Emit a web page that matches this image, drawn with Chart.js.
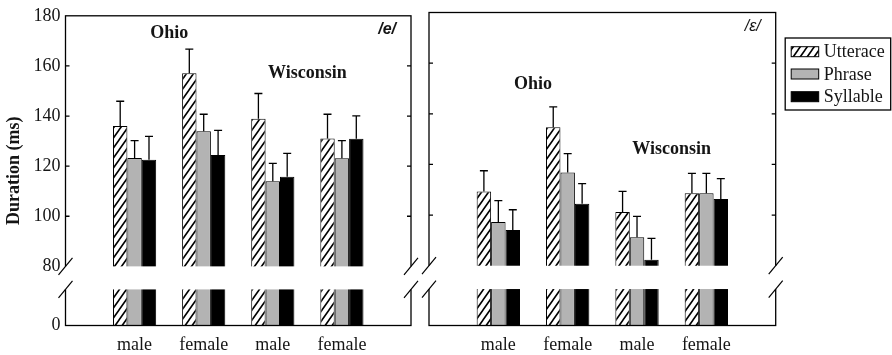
<!DOCTYPE html>
<html><head><meta charset="utf-8">
<script src="https://cdn.jsdelivr.net/npm/chart.js@4.4.0/dist/chart.umd.min.js"></script>
<style>
html,body{margin:0;padding:0;background:#fff;}
#wrap{position:relative;width:892px;height:355px;overflow:hidden;background:#fff;}
#c1{position:absolute;left:0;top:0;}
#c2{position:absolute;left:420px;top:0;}
</style></head><body>
<div id="wrap"><canvas id="c1" width="420" height="355"></canvas><canvas id="c2" width="472" height="355"></canvas></div>
<script>
// ---------- data ----------
const categories = ['male', 'female', 'male', 'female'];
const seriesNames = ['Utterace', 'Phrase', 'Syllable'];
const yTickValues = [0, 80, 100, 120, 140, 160, 180];

// /e/ panel (means, ms)
const eUtterance = [136.0, 157.1, 138.9, 131.0];
const ePhrase    = [123.2, 133.9, 114.0, 123.1];
const eSyllable  = [122.6, 124.4, 115.8, 130.9];
// /e/ panel (error, ms)
const eUtteranceErr = [9.9, 9.6, 10.1, 9.7];
const ePhraseErr    = [7.0, 6.8, 7.1, 7.1];
const eSyllableErr  = [9.3, 9.9, 9.3, 9.2];

// /ɛ/ panel (means, ms)
const epsUtterance = [109.3, 134.7, 101.2, 108.6];
const epsPhrase    = [97.3, 116.8, 91.2, 108.6];
const epsSyllable  = [94.1, 104.5, 82.4, 106.4];
// /ɛ/ panel (error, ms)
const epsUtteranceErr = [8.2, 8.0, 8.2, 7.9];
const epsPhraseErr    = [8.4, 7.5, 8.3, 7.9];
const epsSyllableErr  = [8.0, 7.9, 8.4, 8.0];

// group labels inside the panels
const eNotes = ['Ohio', 'Wisconsin'];
const eNoteX = [1.5, 3.5];
const eNoteY = [172.8, 157.1];
const epsNotes = ['Ohio', 'Wisconsin'];
const epsNoteX = [1.5, 3.5];
const epsNoteY = [151.8, 126.1];

// ---------- styling / axis break ----------
const SERIF = "'Liberation Serif','Times New Roman',serif";
const INK = '#151515';
const Y_MAX = 180;
const Y_MIN = 56.4;      // value drawn where "0" sits (below the break)
const BREAK_HI = 80;     // top of the break gap
const BREAK_LO = 70.8;   // bottom of the break gap

function makeHatch() {
  const w = 7, h = 10;
  const c = document.createElement('canvas');
  c.width = w; c.height = h;
  const g = c.getContext('2d');
  g.fillStyle = '#fff'; g.fillRect(0, 0, w, h);
  g.strokeStyle = '#000'; g.lineWidth = 1.6;
  g.beginPath();
  [-w, 0, w].forEach(dx => {
    g.moveTo(dx - 1, h + 10 / 7); g.lineTo(dx + w + 1, -10 / 7);
  });
  g.stroke();
  return g.createPattern(c, 'repeat');
}
const HATCH = makeHatch();
const FILLS = [HATCH, '#b3b3b3', '#000000'];

const pad = a => [null, ...a, null];

const panelPlugin = {
  id: 'panelPlugin',
  afterDatasetsDraw(chart) {
    const o = chart.options.plugins.panelPlugin;
    const ctx = chart.ctx;
    const ca = chart.chartArea;
    const ys = chart.scales.y, xs = chart.scales.x;
    ctx.save();
    // frame
    ctx.strokeStyle = '#000'; ctx.lineWidth = 1.3;
    ctx.strokeRect(ca.left, ca.top, ca.right - ca.left, ca.bottom - ca.top);
    // inner ticks
    [100, 120, 140, 160].forEach(v => {
      const y = ys.getPixelForValue(v);
      ctx.beginPath();
      ctx.moveTo(ca.left, y); ctx.lineTo(ca.left + 4, y);
      ctx.moveTo(ca.right, y); ctx.lineTo(ca.right - 4, y);
      ctx.stroke();
    });
    // break gap
    const yHi = ys.getPixelForValue(BREAK_HI), yLo = ys.getPixelForValue(BREAK_LO);
    ctx.fillStyle = '#fff';
    ctx.fillRect(ca.left - 3, yHi, ca.right - ca.left + 6, yLo - yHi);
    ctx.strokeStyle = '#000'; ctx.lineWidth = 1.2;
    [ca.left, ca.right].forEach(x => {
      [yHi, yLo].forEach(yc => {
        ctx.beginPath();
        ctx.moveTo(x - 7, yc + 8.5); ctx.lineTo(x + 7, yc - 8.5);
        ctx.stroke();
      });
    });
    // error bars
    ctx.lineWidth = 1.3; ctx.strokeStyle = '#000';
    chart.data.datasets.forEach((ds, i) => {
      const meta = chart.getDatasetMeta(i);
      const errs = o.errors[i];
      meta.data.forEach((bar, j) => {
        const v = ds.data[j];
        if (v === null || v === undefined) return;
        const e = errs[j - 1];
        const yT = ys.getPixelForValue(v + e);
        ctx.beginPath();
        ctx.moveTo(bar.x, bar.y); ctx.lineTo(bar.x, yT);
        ctx.moveTo(bar.x - 4, yT); ctx.lineTo(bar.x + 4, yT);
        ctx.stroke();
      });
    });
    // group labels
    ctx.fillStyle = INK;
    ctx.font = 'bold 18px ' + SERIF;
    ctx.textAlign = 'center'; ctx.textBaseline = 'middle';
    o.notes.forEach((t, k) => {
      ctx.fillText(t, xs.getPixelForValue(o.noteX[k]), ys.getPixelForValue(o.noteY[k]));
    });
    // vowel label
    ctx.font = o.vowelFont;
    ctx.textAlign = 'right';
    ctx.fillText(o.vowel, ca.right - 15, ca.top + 14);
    ctx.restore();
  },
  afterDraw(chart) {
    const o = chart.options.plugins.panelPlugin;
    if (!o.legend) return;
    const ctx = chart.ctx, ca = chart.chartArea;
    const bx = ca.right + 9.5, by = 38, bw = 105.5, bh = 72;
    ctx.save();
    ctx.fillStyle = '#fff';
    ctx.fillRect(bx, by, bw, bh);
    ctx.strokeStyle = '#000'; ctx.lineWidth = 1.3;
    ctx.strokeRect(bx, by, bw, bh);
    const rowY = [51.7, 74, 96.7];
    seriesNames.forEach((name, i) => {
      const y = rowY[i];
      ctx.fillStyle = FILLS[i];
      ctx.fillRect(bx + 6, y - 5, 27.5, 10);
      ctx.lineWidth = 1; ctx.strokeStyle = '#000';
      ctx.strokeRect(bx + 6, y - 5, 27.5, 10);
      ctx.fillStyle = INK;
      ctx.font = '18px ' + SERIF;
      ctx.textAlign = 'left'; ctx.textBaseline = 'middle';
      ctx.fillText(name, bx + 38.5, y + 1);
    });
    ctx.restore();
  }
};

function makePanel(id, series, errors, cfg) {
  return new Chart(document.getElementById(id), {
    type: 'bar',
    data: {
      labels: ['', ...categories, ''],
      datasets: series.map((s, i) => ({
        label: seriesNames[i],
        data: pad(s),
        backgroundColor: FILLS[i],
        borderColor: '#000',
        borderWidth: 1,
        borderSkipped: false,
        categoryPercentage: 0.625,
        barPercentage: 1
      }))
    },
    options: {
      responsive: false,
      animation: false,
      events: [],
      layout: { padding: { left: 0, right: cfg.padRight, top: 12.5, bottom: 0 } },
      plugins: {
        legend: { display: false },
        tooltip: { enabled: false },
        panelPlugin: {
          errors: errors, notes: cfg.notes, noteX: cfg.noteX, noteY: cfg.noteY,
          vowel: cfg.vowel, vowelFont: cfg.vowelFont, legend: cfg.legend
        }
      },
      scales: {
        x: {
          type: 'category',
          offset: false,
          grid: { display: false, drawTicks: false },
          border: { display: false },
          ticks: { autoSkip: false, maxRotation: 0, minRotation: 0, padding: 9,
                   color: INK, font: { family: SERIF, size: 18 } },
          afterFit: s => { s.height = 29.5; }
        },
        y: {
          type: 'linear',
          min: Y_MIN, max: Y_MAX,
          afterBuildTicks: s => { s.ticks = yTickValues.map(v => ({ value: v === 0 ? Y_MIN : v })); },
          afterFit: s => { s.width = cfg.yWidth; },
          grid: { display: false, drawTicks: false },
          border: { display: false },
          ticks: { display: cfg.showY, padding: 5, color: INK, font: { family: SERIF, size: 18 },
                   callback: v => (v === Y_MIN ? '0' : String(v)) },
          title: { display: cfg.showY, text: 'Duration (ms)', color: INK,
                   font: { family: SERIF, size: 18, weight: 'bold' }, padding: { top: 4, bottom: 4 } }
        }
      }
    },
    plugins: [panelPlugin]
  });
}

makePanel('c1', [eUtterance, ePhrase, eSyllable], [eUtteranceErr, ePhraseErr, eSyllableErr], {
  padRight: 6.5, yWidth: 65.5, showY: true, notes: eNotes, noteX: eNoteX, noteY: eNoteY,
  vowel: '/e/', vowelFont: "bold italic 16px 'Liberation Sans',Arial,sans-serif", legend: false
});
makePanel('c2', [epsUtterance, epsPhrase, epsSyllable], [epsUtteranceErr, epsPhraseErr, epsSyllableErr], {
  padRight: 116.3, yWidth: 8.3, showY: false, notes: epsNotes, noteX: epsNoteX, noteY: epsNoteY,
  vowel: '/ɛ/', vowelFont: "italic 16px 'Liberation Sans',Arial,sans-serif", legend: true
});
</script>
</body></html>
